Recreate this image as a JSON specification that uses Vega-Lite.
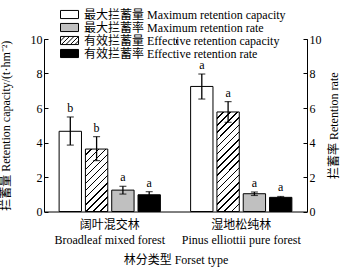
{
  "$schema": "https://vega.github.io/schema/vega-lite/v6.json",
  "width": 263,
  "height": 172.5,
  "autosize": {"type": "none"},
  "padding": {"left": 44, "top": 39, "right": 40, "bottom": 61.5},
  "background": "white",
  "config": {
    "font": "Liberation Serif, Noto Sans CJK SC",
    "view": {"stroke": null},
    "axis": {"grid": false, "domainColor": "black", "tickColor": "black", "labelColor": "black", "titleColor": "black", "labelFontSize": 12, "titleFontSize": 12, "titleFontWeight": "normal", "labelFont": "Liberation Serif, Noto Sans CJK SC", "titleFont": "Liberation Serif, Noto Sans CJK SC", "labelOverlap": false}
  },
  "data": {
    "values": [
      {"forest": "阔叶混交林", "type": "最大拦蓄量 Maximum retention capacity", "kind": "capacity", "value": 4.65, "lo": 3.85, "hi": 5.48, "letter": "b"},
      {"forest": "阔叶混交林", "type": "有效拦蓄量 Effective retention capacity", "kind": "capacity", "value": 3.62, "lo": 2.95, "hi": 4.34, "letter": "b"},
      {"forest": "阔叶混交林", "type": "最大拦蓄率 Maximum retention rate", "kind": "rate", "value": 1.24, "lo": 1.01, "hi": 1.46, "letter": "a"},
      {"forest": "阔叶混交林", "type": "有效拦蓄率 Effective retention rate", "kind": "rate", "value": 0.97, "lo": 0.8, "hi": 1.15, "letter": "a"},
      {"forest": "湿地松纯林", "type": "最大拦蓄量 Maximum retention capacity", "kind": "capacity", "value": 7.25, "lo": 6.52, "hi": 7.97, "letter": "a"},
      {"forest": "湿地松纯林", "type": "有效拦蓄量 Effective retention capacity", "kind": "capacity", "value": 5.77, "lo": 5.17, "hi": 6.37, "letter": "a"},
      {"forest": "湿地松纯林", "type": "最大拦蓄率 Maximum retention rate", "kind": "rate", "value": 1.03, "lo": 0.93, "hi": 1.13, "letter": "a"},
      {"forest": "湿地松纯林", "type": "有效拦蓄率 Effective retention rate", "kind": "rate", "value": 0.82, "lo": 0.77, "hi": 0.87, "letter": "a"}
    ]
  },
  "encoding": {
    "x": {
      "field": "forest", "type": "nominal", "sort": ["阔叶混交林", "湿地松纯林"],
      "scale": {"paddingInner": 0, "paddingOuter": 0},
      "axis": {
        "title": "林分类型 Forset type", "labelAngle": 0, "ticks": false,
        "labelPadding": 8, "labelLineHeight": 15, "titlePadding": 9,
        "labelExpr": "datum.value === '阔叶混交林' ? ['阔叶混交林', 'Broadleaf mixed forest'] : ['湿地松纯林', 'Pinus elliottii pure forest']"
      }
    },
    "xOffset": {
      "field": "type", "type": "nominal",
      "sort": ["最大拦蓄量 Maximum retention capacity", "有效拦蓄量 Effective retention capacity", "最大拦蓄率 Maximum retention rate", "有效拦蓄率 Effective retention rate"],
      "scale": {"paddingInner": 0.15, "paddingOuter": 0.575}
    }
  },
  "layer": [
    {
      "transform": [{"filter": "datum.kind === 'capacity'"}],
      "layer": [
        {
          "mark": {"type": "bar", "stroke": "black", "strokeWidth": 1},
          "encoding": {
            "y": {"field": "value", "type": "quantitative", "scale": {"domain": [0, 10], "nice": false},
              "axis": {"title": "拦蓄量 Retention capacity/(t·hm⁻²)", "values": [0, 2, 4, 6, 8, 10], "tickSize": -4, "labelPadding": 6, "titlePadding": 18, "labelOverlap": false}},
            "fill": {
              "condition": [
                {"test": "datum.type === '有效拦蓄量 Effective retention capacity' && datum.forest === '阔叶混交林'",
                 "value": {"gradient": "linear", "x1": 0, "y1": 0, "x2": 0.432, "y2": 1.204, "stops": [
                  {"offset": 0, "color": "white"}, {"offset": 0.065, "color": "white"}, {"offset": 0.065, "color": "black"}, {"offset": 0.0833, "color": "black"},
                  {"offset": 0.0833, "color": "white"}, {"offset": 0.1483, "color": "white"}, {"offset": 0.1483, "color": "black"}, {"offset": 0.1667, "color": "black"},
                  {"offset": 0.1667, "color": "white"}, {"offset": 0.2317, "color": "white"}, {"offset": 0.2317, "color": "black"}, {"offset": 0.25, "color": "black"},
                  {"offset": 0.25, "color": "white"}, {"offset": 0.315, "color": "white"}, {"offset": 0.315, "color": "black"}, {"offset": 0.3333, "color": "black"},
                  {"offset": 0.3333, "color": "white"}, {"offset": 0.3983, "color": "white"}, {"offset": 0.3983, "color": "black"}, {"offset": 0.4167, "color": "black"},
                  {"offset": 0.4167, "color": "white"}, {"offset": 0.4817, "color": "white"}, {"offset": 0.4817, "color": "black"}, {"offset": 0.5, "color": "black"},
                  {"offset": 0.5, "color": "white"}, {"offset": 0.565, "color": "white"}, {"offset": 0.565, "color": "black"}, {"offset": 0.5833, "color": "black"},
                  {"offset": 0.5833, "color": "white"}, {"offset": 0.6483, "color": "white"}, {"offset": 0.6483, "color": "black"}, {"offset": 0.6667, "color": "black"},
                  {"offset": 0.6667, "color": "white"}, {"offset": 0.7317, "color": "white"}, {"offset": 0.7317, "color": "black"}, {"offset": 0.75, "color": "black"},
                  {"offset": 0.75, "color": "white"}, {"offset": 0.815, "color": "white"}, {"offset": 0.815, "color": "black"}, {"offset": 0.8333, "color": "black"},
                  {"offset": 0.8333, "color": "white"}, {"offset": 0.8983, "color": "white"}, {"offset": 0.8983, "color": "black"}, {"offset": 0.9167, "color": "black"},
                  {"offset": 0.9167, "color": "white"}, {"offset": 0.9817, "color": "white"}, {"offset": 0.9817, "color": "black"}, {"offset": 1, "color": "black"}
                 ]}},
                {"test": "datum.type === '有效拦蓄量 Effective retention capacity' && datum.forest === '湿地松纯林'",
                 "value": {"gradient": "linear", "x1": 0, "y1": 0, "x2": 0.263, "y2": 1.166, "stops": [
                  {"offset": 0, "color": "white"}, {"offset": 0.0459, "color": "white"}, {"offset": 0.0459, "color": "black"}, {"offset": 0.0588, "color": "black"},
                  {"offset": 0.0588, "color": "white"}, {"offset": 0.1047, "color": "white"}, {"offset": 0.1047, "color": "black"}, {"offset": 0.1176, "color": "black"},
                  {"offset": 0.1176, "color": "white"}, {"offset": 0.1635, "color": "white"}, {"offset": 0.1635, "color": "black"}, {"offset": 0.1765, "color": "black"},
                  {"offset": 0.1765, "color": "white"}, {"offset": 0.2224, "color": "white"}, {"offset": 0.2224, "color": "black"}, {"offset": 0.2353, "color": "black"},
                  {"offset": 0.2353, "color": "white"}, {"offset": 0.2812, "color": "white"}, {"offset": 0.2812, "color": "black"}, {"offset": 0.2941, "color": "black"},
                  {"offset": 0.2941, "color": "white"}, {"offset": 0.34, "color": "white"}, {"offset": 0.34, "color": "black"}, {"offset": 0.3529, "color": "black"},
                  {"offset": 0.3529, "color": "white"}, {"offset": 0.3988, "color": "white"}, {"offset": 0.3988, "color": "black"}, {"offset": 0.4118, "color": "black"},
                  {"offset": 0.4118, "color": "white"}, {"offset": 0.4576, "color": "white"}, {"offset": 0.4576, "color": "black"}, {"offset": 0.4706, "color": "black"},
                  {"offset": 0.4706, "color": "white"}, {"offset": 0.5165, "color": "white"}, {"offset": 0.5165, "color": "black"}, {"offset": 0.5294, "color": "black"},
                  {"offset": 0.5294, "color": "white"}, {"offset": 0.5753, "color": "white"}, {"offset": 0.5753, "color": "black"}, {"offset": 0.5882, "color": "black"},
                  {"offset": 0.5882, "color": "white"}, {"offset": 0.6341, "color": "white"}, {"offset": 0.6341, "color": "black"}, {"offset": 0.6471, "color": "black"},
                  {"offset": 0.6471, "color": "white"}, {"offset": 0.6929, "color": "white"}, {"offset": 0.6929, "color": "black"}, {"offset": 0.7059, "color": "black"},
                  {"offset": 0.7059, "color": "white"}, {"offset": 0.7518, "color": "white"}, {"offset": 0.7518, "color": "black"}, {"offset": 0.7647, "color": "black"},
                  {"offset": 0.7647, "color": "white"}, {"offset": 0.8106, "color": "white"}, {"offset": 0.8106, "color": "black"}, {"offset": 0.8235, "color": "black"},
                  {"offset": 0.8235, "color": "white"}, {"offset": 0.8694, "color": "white"}, {"offset": 0.8694, "color": "black"}, {"offset": 0.8824, "color": "black"},
                  {"offset": 0.8824, "color": "white"}, {"offset": 0.9282, "color": "white"}, {"offset": 0.9282, "color": "black"}, {"offset": 0.9412, "color": "black"},
                  {"offset": 0.9412, "color": "white"}, {"offset": 0.9871, "color": "white"}, {"offset": 0.9871, "color": "black"}, {"offset": 1, "color": "black"}
                 ]}}
              ],
              "field": "type", "type": "nominal",
              "scale": {
                "domain": ["最大拦蓄量 Maximum retention capacity", "最大拦蓄率 Maximum retention rate", "有效拦蓄量 Effective retention capacity", "有效拦蓄率 Effective retention rate"],
                "range": ["white", "#c0c0c0", "white", "black"]
              }
            }
          }
        },
        {
          "mark": {"type": "point", "filled": true, "size": 0, "stroke": "black", "strokeWidth": 0},
          "encoding": {
            "y": {"field": "value", "type": "quantitative",
              "axis": {"title": "拦蓄量 Retention capacity/(t·hm⁻²)", "values": [0, 2, 4, 6, 8, 10], "tickSize": -4, "labelPadding": 6, "titlePadding": 18, "labelOverlap": false}},
            "fill": {
              "field": "type", "type": "nominal",
              "legend": {
                "orient": "none", "legendX": 19, "legendY": -31, "title": null,
                "symbolSize": 144, "symbolStrokeWidth": 1, "symbolStrokeColor": "black",
                "labelFontSize": 12, "labelFont": "Liberation Serif, Noto Sans CJK SC", "labelColor": "black", "labelOffset": 8, "rowPadding": -0.3, "labelLimit": 400, "padding": 0
              }
            },
            "shape": {
              "field": "type", "type": "nominal",
              "scale": {
                "domain": ["最大拦蓄量 Maximum retention capacity", "最大拦蓄率 Maximum retention rate", "有效拦蓄量 Effective retention capacity", "有效拦蓄率 Effective retention rate"],
                "range": [
                  "M-1.5,-0.675H1.5V0.675H-1.5Z",
                  "M-1.5,-0.675H1.5V0.675H-1.5Z",
                  "M-1.5,-0.675H1.5V0.675H-1.5Z M-1.5,0.075L-0.75,-0.675 M-1.35,0.675L0,-0.675 M-0.6,0.675L0.75,-0.675 M0.15,0.675L1.5,-0.675 M0.9,0.675L1.5,0.075",
                  "M-1.5,-0.675H1.5V0.675H-1.5Z"
                ]
              },
              "legend": {
                "orient": "none", "legendX": 19, "legendY": -31, "title": null,
                "symbolSize": 144, "symbolStrokeWidth": 1, "symbolStrokeColor": "black",
                "labelFontSize": 12, "labelFont": "Liberation Serif, Noto Sans CJK SC", "labelColor": "black", "labelOffset": 8, "rowPadding": -0.3, "labelLimit": 400, "padding": 0
              }
            }
          }
        },
        {
          "mark": {"type": "rule", "color": "black", "strokeWidth": 1.3},
          "encoding": {"y": {"field": "lo", "type": "quantitative",
              "axis": {"title": "拦蓄量 Retention capacity/(t·hm⁻²)", "values": [0, 2, 4, 6, 8, 10], "tickSize": -4, "labelPadding": 6, "titlePadding": 18, "labelOverlap": false}}, "y2": {"field": "hi"}}
        },
        {
          "mark": {"type": "tick", "color": "black", "thickness": 1.2, "size": 7},
          "encoding": {"y": {"field": "lo", "type": "quantitative",
              "axis": {"title": "拦蓄量 Retention capacity/(t·hm⁻²)", "values": [0, 2, 4, 6, 8, 10], "tickSize": -4, "labelPadding": 6, "titlePadding": 18, "labelOverlap": false}}}
        },
        {
          "mark": {"type": "tick", "color": "black", "thickness": 1.2, "size": 7},
          "encoding": {"y": {"field": "hi", "type": "quantitative",
              "axis": {"title": "拦蓄量 Retention capacity/(t·hm⁻²)", "values": [0, 2, 4, 6, 8, 10], "tickSize": -4, "labelPadding": 6, "titlePadding": 18, "labelOverlap": false}}}
        },
        {
          "mark": {"type": "text", "fontSize": 12, "baseline": "bottom", "dy": -2, "color": "black"},
          "encoding": {"y": {"field": "hi", "type": "quantitative",
              "axis": {"title": "拦蓄量 Retention capacity/(t·hm⁻²)", "values": [0, 2, 4, 6, 8, 10], "tickSize": -4, "labelPadding": 6, "titlePadding": 18, "labelOverlap": false}}, "text": {"field": "letter"}}
        }
      ]
    },
    {
      "transform": [{"filter": "datum.kind === 'rate'"}],
      "encoding": {
        "x": {
          "field": "forest", "type": "nominal", "sort": ["阔叶混交林", "湿地松纯林"],
          "axis": {"title": null, "labels": false, "domain": false, "tickBand": "extent", "tickSize": -4}
        }
      },
      "layer": [
        {
          "mark": {"type": "bar", "stroke": "black", "strokeWidth": 1},
          "encoding": {
            "y": {"field": "value", "type": "quantitative", "scale": {"domain": [0, 10], "nice": false},
              "axis": {"orient": "right", "title": "拦蓄率 Retention rate", "titleAngle": 270, "values": [0, 2, 4, 6, 8, 10], "tickSize": -4, "labelPadding": 6, "titlePadding": 19, "labelOverlap": false}},
            "fill": {"field": "type", "type": "nominal"}
          }
        },
        {
          "mark": {"type": "rule", "color": "black", "strokeWidth": 1.3},
          "encoding": {"y": {"field": "lo", "type": "quantitative",
              "axis": {"orient": "right", "title": "拦蓄率 Retention rate", "titleAngle": 270, "values": [0, 2, 4, 6, 8, 10], "tickSize": -4, "labelPadding": 6, "titlePadding": 19, "labelOverlap": false}}, "y2": {"field": "hi"}}
        },
        {
          "mark": {"type": "tick", "color": "black", "thickness": 1.2, "size": 7},
          "encoding": {"y": {"field": "lo", "type": "quantitative",
              "axis": {"orient": "right", "title": "拦蓄率 Retention rate", "titleAngle": 270, "values": [0, 2, 4, 6, 8, 10], "tickSize": -4, "labelPadding": 6, "titlePadding": 19, "labelOverlap": false}}}
        },
        {
          "mark": {"type": "tick", "color": "black", "thickness": 1.2, "size": 7},
          "encoding": {"y": {"field": "hi", "type": "quantitative",
              "axis": {"orient": "right", "title": "拦蓄率 Retention rate", "titleAngle": 270, "values": [0, 2, 4, 6, 8, 10], "tickSize": -4, "labelPadding": 6, "titlePadding": 19, "labelOverlap": false}}}
        },
        {
          "mark": {"type": "text", "fontSize": 12, "baseline": "bottom", "dy": -2, "color": "black"},
          "encoding": {"y": {"field": "hi", "type": "quantitative",
              "axis": {"orient": "right", "title": "拦蓄率 Retention rate", "titleAngle": 270, "values": [0, 2, 4, 6, 8, 10], "tickSize": -4, "labelPadding": 6, "titlePadding": 19, "labelOverlap": false}}, "text": {"field": "letter"}}
        }
      ]
    }
  ],
  "resolve": {"scale": {"y": "independent"}, "axis": {"x": "independent"}}
}
